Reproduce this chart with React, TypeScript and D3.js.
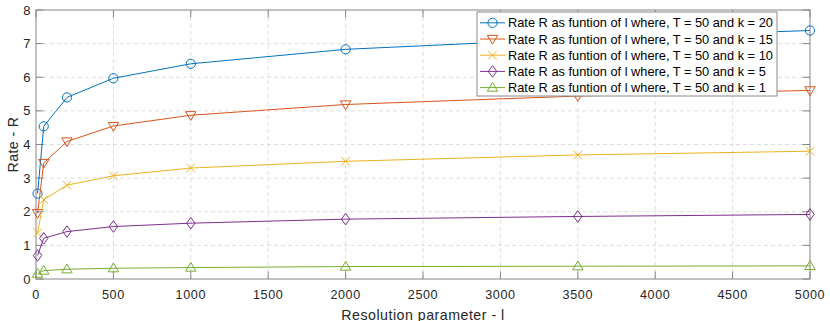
import React from "react";
import * as d3 from "d3";

const width = 830;
const height = 321;
const margin = { top: 10, right: 20, bottom: 42, left: 36 };

const resolution = [10, 50, 200, 500, 1000, 2000, 3500, 5000];
const rateK20 = [2.54, 4.54, 5.4, 5.97, 6.4, 6.83, 7.15, 7.39];
const rateK15 = [1.96, 3.45, 4.09, 4.55, 4.87, 5.19, 5.44, 5.61];
const rateK10 = [1.37, 2.36, 2.79, 3.07, 3.3, 3.5, 3.69, 3.8];
const rateK5 = [0.7, 1.21, 1.41, 1.56, 1.66, 1.78, 1.86, 1.92];
const rateK1 = [0.16, 0.25, 0.29, 0.32, 0.34, 0.37, 0.38, 0.39];

const xTicks = [0, 500, 1000, 1500, 2000, 2500, 3000, 3500, 4000, 4500, 5000];
const yTicks = [0, 1, 2, 3, 4, 5, 6, 7, 8];

const seriesNames = [
  "Rate R as funtion of l where, T = 50 and k = 20",
  "Rate R as funtion of l where, T = 50 and k = 15",
  "Rate R as funtion of l where, T = 50 and k = 10",
  "Rate R as funtion of l where, T = 50 and k = 5",
  "Rate R as funtion of l where, T = 50 and k = 1",
];
const seriesColors = ["#0072BD", "#D95319", "#EDB120", "#7E2F8E", "#77AC30"];
const seriesMarkers = ["circle", "triangleDown", "cross", "diamond", "triangleUp"];
const seriesValues = [rateK20, rateK15, rateK10, rateK5, rateK1];

const font = "'Liberation Sans', Arial, Helvetica, sans-serif";

function Marker({ type, x, y, color }: { type: string; x: number; y: number; color: string }) {
  const common = { fill: "none", stroke: color, strokeWidth: 1 };
  if (type === "circle") return <circle cx={x} cy={y} r={4.6} {...common} />;
  if (type === "triangleDown")
    return <path d={`M${x - 5.2},${y - 3.6}L${x + 5.2},${y - 3.6}L${x},${y + 5.2}Z`} {...common} />;
  if (type === "triangleUp")
    return <path d={`M${x - 5.2},${y + 3.6}L${x + 5.2},${y + 3.6}L${x},${y - 5.2}Z`} {...common} />;
  if (type === "diamond")
    return <path d={`M${x},${y - 5.8}L${x + 4.2},${y}L${x},${y + 5.8}L${x - 4.2},${y}Z`} {...common} />;
  return (
    <path d={`M${x - 4.3},${y - 4.3}L${x + 4.3},${y + 4.3}M${x - 4.3},${y + 4.3}L${x + 4.3},${y - 4.3}`} {...common} />
  );
}

export default function App() {
  const x = d3.scaleLinear().domain([0, 5000]).range([margin.left, width - margin.right]);
  const y = d3.scaleLinear().domain([0, 8]).range([height - margin.bottom, margin.top]);
  const line = d3
    .line<number>()
    .x((_, i) => x(resolution[i]))
    .y((d) => y(d));

  const x0 = x(0);
  const x1 = x(5000);
  const y0 = y(0);
  const y1 = y(8);
  const tick = 7.5;
  const axisColor = "#848484";

  const legend = { x: 477, y: 12, w: 300, h: 84, row: 16.2 };

  return (
    <svg
      width={width}
      height={height}
      style={{ position: "absolute", left: 0, top: 0, background: "#fff" }}
      fontFamily={font}
    >
      {/* grid */}
      {xTicks.slice(1, -1).map((t) => (
        <line key={"gx" + t} x1={x(t)} x2={x(t)} y1={y1} y2={y0} stroke="#dedede" strokeDasharray="4,3" />
      ))}
      {yTicks.slice(1, -1).map((t) => (
        <line key={"gy" + t} x1={x0} x2={x1} y1={y(t)} y2={y(t)} stroke="#dedede" strokeDasharray="4,3" />
      ))}

      {/* ticks */}
      {xTicks.map((t) => (
        <g key={"tx" + t}>
          <line x1={x(t)} x2={x(t)} y1={y0} y2={y0 - tick} stroke={axisColor} />
          <line x1={x(t)} x2={x(t)} y1={y1} y2={y1 + tick} stroke={axisColor} />
          <text
            x={x(t)}
            y={y0 + 20}
            textAnchor="middle"
            fontSize={12.6}
            letterSpacing={0.6}
            fill="#262626"
          >
            {t}
          </text>
        </g>
      ))}
      {yTicks.map((t) => (
        <g key={"ty" + t}>
          <line x1={x0} x2={x0 + tick} y1={y(t)} y2={y(t)} stroke={axisColor} />
          <line x1={x1} x2={x1 - tick} y1={y(t)} y2={y(t)} stroke={axisColor} />
          <text x={x0 - 5.5} y={y(t) + 4.6} textAnchor="end" fontSize={13} fill="#262626">
            {t}
          </text>
        </g>
      ))}

      <rect x={x0} y={y1} width={x1 - x0} height={y0 - y1} fill="none" stroke={axisColor} />

      {/* series */}
      {seriesValues.map((vals, s) => (
        <g key={"s" + s}>
          <path d={line(vals) || ""} fill="none" stroke={seriesColors[s]} strokeWidth={1} />
          {vals.map((v, i) => (
            <Marker key={i} type={seriesMarkers[s]} x={x(resolution[i])} y={y(v)} color={seriesColors[s]} />
          ))}
        </g>
      ))}

      {/* legend */}
      <rect x={legend.x} y={legend.y} width={legend.w} height={legend.h} fill="#fff" stroke="#8a8a8a" />
      {seriesNames.map((name, s) => {
        const ly = legend.y + 10.8 + s * legend.row;
        return (
          <g key={"l" + s}>
            <line x1={legend.x + 3} x2={legend.x + 28} y1={ly} y2={ly} stroke={seriesColors[s]} />
            <Marker type={seriesMarkers[s]} x={legend.x + 15.5} y={ly} color={seriesColors[s]} />
            <text x={legend.x + 31} y={ly + 4.5} fontSize={12.8} fill="#000">
              {name}
            </text>
          </g>
        );
      })}

      {/* axis labels */}
      <text
        x={(x0 + x1) / 2}
        y={height - 1.5}
        textAnchor="middle"
        fontSize={14.2}
        letterSpacing={0.5}
        fill="#262626"
      >
        Resolution parameter - l
      </text>
      <text
        transform={`translate(17.5, ${(y0 + y1) / 2}) rotate(-90)`}
        textAnchor="middle"
        fontSize={14.2}
        letterSpacing={0.4}
        fill="#262626"
      >
        Rate - R
      </text>
    </svg>
  );
}
